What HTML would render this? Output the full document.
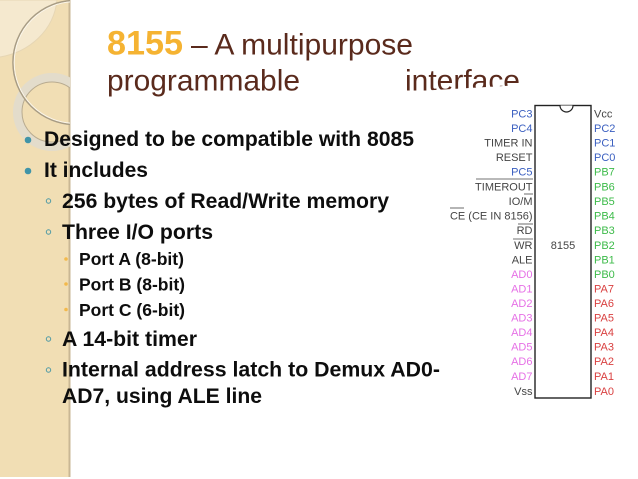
<!DOCTYPE html>
<html><head><meta charset="utf-8"><style>
html,body{margin:0;padding:0;background:#fff}
svg{display:block;font-family:"Liberation Sans",sans-serif}
</style></head><body>
<svg width="638" height="479" viewBox="0 0 638 479" xmlns="http://www.w3.org/2000/svg">
<defs>
<clipPath id="side"><rect x="0" y="0" width="70" height="479"/></clipPath>
<clipPath id="ttl"><polygon points="380,60 540,60 540,84 400,92"/></clipPath>
<filter id="b" x="-5%" y="-5%" width="110%" height="110%"><feGaussianBlur stdDeviation="0.35"/></filter>
<filter id="b2" x="-5%" y="-5%" width="110%" height="110%"><feGaussianBlur stdDeviation="0.25"/></filter>
</defs>
<rect width="638" height="479" fill="#fff"/>
<rect x="0" y="0" width="70" height="477" fill="#f1deb4"/>
<rect x="68.500" y="0" width="2" height="477" fill="#c9b794"/>
<g clip-path="url(#side)" filter="url(#b)">
<path d="M0 0H57C54 30 30 52 0 57Z" fill="#f5e9cf"/>
<path d="M0 0H57C54 30 30 52 0 57" fill="none" stroke="#e6d6b4" stroke-width="1"/>
<circle cx="52" cy="112" r="34.500" fill="none" stroke="#e3dccb" stroke-width="9"/>
<circle cx="52" cy="112" r="30" fill="none" stroke="#b8ab90" stroke-width="1"/>
<circle cx="75" cy="62.500" r="62" fill="none" stroke="#a89c84" stroke-width="1.600"/>
<circle cx="75" cy="62.500" r="60.800" fill="none" stroke="#fbf6ea" stroke-width="1"/>
</g>
<g filter="url(#b)">
<text x="107" y="54.500" font-size="34" font-weight="700" fill="#f5b332" textLength="76" lengthAdjust="spacingAndGlyphs">8155</text>
<text x="191" y="54.500" font-size="30" fill="#5a2c1f" textLength="222" lengthAdjust="spacingAndGlyphs">– A multipurpose</text>
<text x="107" y="90.500" font-size="30" fill="#5a2c1f" textLength="193" lengthAdjust="spacingAndGlyphs">programmable</text>
<g clip-path="url(#ttl)"><text x="405" y="90.500" font-size="30" fill="#5a2c1f" textLength="115" lengthAdjust="spacingAndGlyphs">interface</text></g>
</g>
<g filter="url(#b2)" fill="#111" font-weight="700">
<circle cx="28" cy="140" r="3.300" fill="#3f94a8"/>
<circle cx="28" cy="171" r="3.300" fill="#3f94a8"/>
<text x="44" y="146" font-size="21" textLength="370" lengthAdjust="spacingAndGlyphs">Designed to be compatible with 8085</text>
<text x="44" y="177" font-size="21" textLength="104" lengthAdjust="spacingAndGlyphs">It includes</text>
<text x="62" y="208" font-size="21" textLength="327" lengthAdjust="spacingAndGlyphs">256 bytes of Read/Write memory</text>
<text x="62" y="239" font-size="21" textLength="151" lengthAdjust="spacingAndGlyphs">Three I/O ports</text>
<text x="79" y="265" font-size="17.300" textLength="105" lengthAdjust="spacingAndGlyphs">Port A (8-bit)</text>
<text x="79" y="290.500" font-size="17.300" textLength="106" lengthAdjust="spacingAndGlyphs">Port B (8-bit)</text>
<text x="79" y="316" font-size="17.300" textLength="106" lengthAdjust="spacingAndGlyphs">Port C (6-bit)</text>
<text x="62" y="346" font-size="21" textLength="135" lengthAdjust="spacingAndGlyphs">A 14-bit timer</text>
<text x="62" y="376.500" font-size="21" textLength="378" lengthAdjust="spacingAndGlyphs">Internal address latch to Demux AD0-</text>
<text x="62" y="403" font-size="21" textLength="200" lengthAdjust="spacingAndGlyphs">AD7, using ALE line</text>
<g fill="none" stroke="#4f9aa5" stroke-width="1">
<circle cx="48.500" cy="201" r="2.200"/><circle cx="48.500" cy="232" r="2.200"/><circle cx="48.500" cy="339" r="2.200"/><circle cx="48.500" cy="370" r="2.200"/>
</g>
<g fill="#f3b94c">
<circle cx="66" cy="259" r="1.800"/><circle cx="66" cy="284" r="1.800"/><circle cx="66" cy="309.500" r="1.800"/>
</g>
</g>
<g filter="url(#b)">
<rect x="535" y="105.500" width="56" height="292.500" fill="#fff" stroke="#222" stroke-width="1.400"/>
<path d="M560 105.500A6.500 6.500 0 0 0 573 105.500" fill="#fff" stroke="#222" stroke-width="1.200"/>
<g font-size="11" text-anchor="end">
<text x="532.500" y="117.500" fill="#3a5fc0">PC3</text>
<text x="532.500" y="132" fill="#3a5fc0">PC4</text>
<text x="532.500" y="146.500" fill="#444">TIMER IN</text>
<text x="532.500" y="161" fill="#444">RESET</text>
<text x="532.500" y="175.500" fill="#3a5fc0">PC5</text>
<text x="532.500" y="190.500" fill="#444">TIMEROUT</text>
<text x="532.500" y="205" fill="#444">IO/M</text>
<text x="532.500" y="219.500" fill="#444">CE (CE IN 8156)</text>
<text x="532.500" y="234" fill="#444">RD</text>
<text x="532.500" y="249" fill="#444">WR</text>
<text x="532.500" y="263.500" fill="#444">ALE</text>
<text x="532.500" y="278" fill="#e66fe6">AD0</text>
<text x="532.500" y="292.500" fill="#e66fe6">AD1</text>
<text x="532.500" y="307" fill="#e66fe6">AD2</text>
<text x="532.500" y="321.500" fill="#e66fe6">AD3</text>
<text x="532.500" y="336" fill="#e66fe6">AD4</text>
<text x="532.500" y="350.500" fill="#e66fe6">AD5</text>
<text x="532.500" y="365" fill="#e66fe6">AD6</text>
<text x="532.500" y="380" fill="#e66fe6">AD7</text>
<text x="532.500" y="395" fill="#444">Vss</text>
</g>
<g font-size="11">
<text x="594" y="117.500" fill="#444">Vcc</text>
<text x="594" y="132" fill="#3a5fc0">PC2</text>
<text x="594" y="146.500" fill="#3a5fc0">PC1</text>
<text x="594" y="161" fill="#3a5fc0">PC0</text>
<text x="594" y="175.500" fill="#3dbb4a">PB7</text>
<text x="594" y="190.500" fill="#3dbb4a">PB6</text>
<text x="594" y="205" fill="#3dbb4a">PB5</text>
<text x="594" y="219.500" fill="#3dbb4a">PB4</text>
<text x="594" y="234" fill="#3dbb4a">PB3</text>
<text x="594" y="249" fill="#3dbb4a">PB2</text>
<text x="594" y="263.500" fill="#3dbb4a">PB1</text>
<text x="594" y="278" fill="#3dbb4a">PB0</text>
<text x="594" y="292.500" fill="#d94040">PA7</text>
<text x="594" y="307" fill="#d94040">PA6</text>
<text x="594" y="321.500" fill="#d94040">PA5</text>
<text x="594" y="336" fill="#d94040">PA4</text>
<text x="594" y="350.500" fill="#d94040">PA3</text>
<text x="594" y="365" fill="#d94040">PA2</text>
<text x="594" y="380" fill="#d94040">PA1</text>
<text x="594" y="395" fill="#d94040">PA0</text>
</g>
<text x="563" y="249" font-size="11" fill="#444" text-anchor="middle">8155</text>
<g stroke="#444" stroke-width="0.800">
<line x1="476" y1="179" x2="533" y2="179"/>
<line x1="524" y1="194" x2="533" y2="194"/>
<line x1="450" y1="208" x2="464" y2="208"/>
<line x1="518" y1="224" x2="533" y2="224"/>
<line x1="513" y1="239" x2="533" y2="239"/>
</g>
</g>
</svg>
</body></html>
